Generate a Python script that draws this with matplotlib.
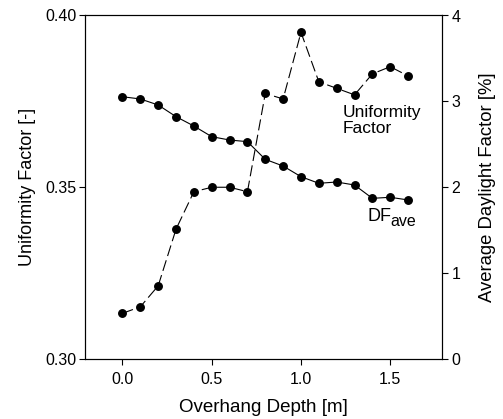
import matplotlib
matplotlib.use("Agg")
import matplotlib.pyplot as plt
import numpy as np

plt.rcParams['font.family'] = ['Liberation Sans', 'DejaVu Sans']

# overhang depth [m]
depth = [0.0, 0.1, 0.2, 0.3, 0.4, 0.5, 0.6, 0.7, 0.8, 0.9, 1.0, 1.1, 1.2, 1.3, 1.4, 1.5, 1.6]
# uniformity factor [-] (left axis, dashed)
uniformity = [0.3133, 0.3152, 0.3213, 0.3378, 0.3487, 0.3500, 0.3500, 0.3487,
              0.3773, 0.3757, 0.3951, 0.3807, 0.3788, 0.3769, 0.3830, 0.3851, 0.3824]
# average daylight factor [%] (right axis, solid)
df_ave = [3.054, 3.028, 2.958, 2.822, 2.713, 2.589, 2.550, 2.531,
          2.325, 2.247, 2.123, 2.046, 2.061, 2.026, 1.871, 1.883, 1.852]

fig = plt.figure(figsize=(5.03, 4.19), dpi=100)
ax = fig.add_axes([85 / 503, 1 - 359 / 419, (442 - 85) / 503, (359 - 15.5) / 419])
ax2 = ax.twinx()

ax.plot(depth, uniformity, color='black', lw=0.8, linestyle=(0, (10, 4)),
        marker='o', markersize=5.4, zorder=3)
ax2.plot(depth, df_ave, color='black', lw=0.8, linestyle='-',
         marker='o', markersize=5.4)

ax.set_xlim(-0.21, 1.79)
ax.set_ylim(0.30, 0.40)
ax2.set_ylim(0, 4)
ax.set_xticks([0.0, 0.5, 1.0, 1.5])
ax.set_xticklabels(['0.0', '0.5', '1.0', '1.5'])
ax.set_yticks([0.30, 0.35, 0.40])
ax.set_yticklabels(['0.30', '0.35', '0.40'])
ax2.set_yticks([0, 1, 2, 3, 4])

for a in (ax, ax2):
    a.tick_params(direction='out', length=4, width=0.8, labelsize=11.5, colors='black')
    for s in a.spines.values():
        s.set_linewidth(0.8)
ax.tick_params(axis='y', pad=2)
ax2.tick_params(axis='y', pad=3)
ax.tick_params(axis='x', pad=5)

ax.set_xlabel('Overhang Depth [m]', fontsize=13.5, labelpad=9)
ax.set_ylabel('Uniformity Factor [-]', fontsize=13, labelpad=7)
ax2.set_ylabel('Average Daylight Factor [%]', fontsize=13.3, labelpad=13)

ax.text(1.235, 0.3738, 'Uniformity\nFactor', fontsize=12.5, ha='left', va='top',
        linespacing=1.05)
ax2.text(1.375, 1.665, 'DF', fontsize=13, ha='left', va='center')
ax2.text(1.503, 1.600, 'ave', fontsize=11.5, ha='left', va='center')

fig.savefig('out.png', dpi=100)
